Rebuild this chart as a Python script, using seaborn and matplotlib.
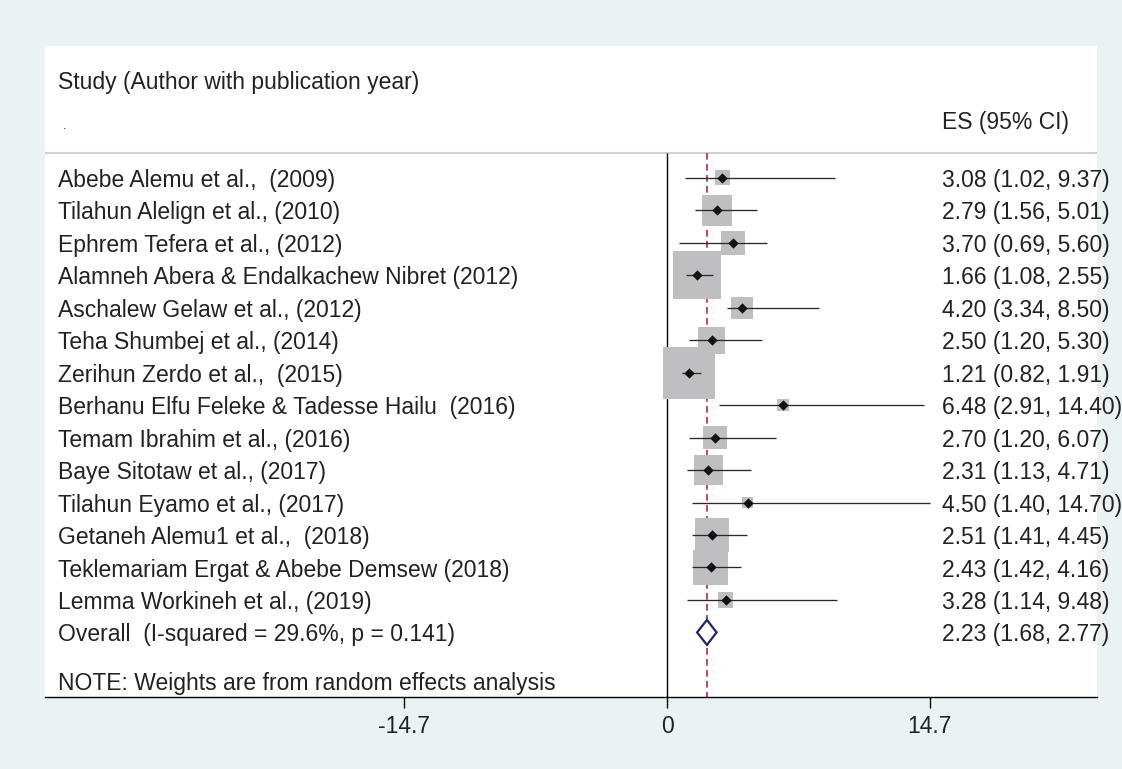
import numpy as np
import pandas as pd
import matplotlib
matplotlib.use("Agg")
import matplotlib.pyplot as plt
import seaborn as sns

# ---------------- data ----------------
studies = [
    "Abebe Alemu et al.,  (2009)",
    "Tilahun Alelign et al., (2010)",
    "Ephrem Tefera et al., (2012)",
    "Alamneh Abera & Endalkachew Nibret (2012)",
    "Aschalew Gelaw et al., (2012)",
    "Teha Shumbej et al., (2014)",
    "Zerihun Zerdo et al.,  (2015)",
    "Berhanu Elfu Feleke & Tadesse Hailu  (2016)",
    "Temam Ibrahim et al., (2016)",
    "Baye Sitotaw et al., (2017)",
    "Tilahun Eyamo et al., (2017)",
    "Getaneh Alemu1 et al.,  (2018)",
    "Teklemariam Ergat & Abebe Demsew (2018)",
    "Lemma Workineh et al., (2019)",
]
es = [3.08, 2.79, 3.70, 1.66, 4.20, 2.50, 1.21, 6.48, 2.70, 2.31, 4.50, 2.51, 2.43, 3.28]
ci_low = [1.02, 1.56, 0.69, 1.08, 3.34, 1.20, 0.82, 2.91, 1.20, 1.13, 1.40, 1.41, 1.42, 1.14]
ci_high = [9.37, 5.01, 5.60, 2.55, 8.50, 5.30, 1.91, 14.40, 6.07, 4.71, 14.70, 4.45, 4.16, 9.48]
weights = [1.84, 7.71, 4.60, 18.63, 4.07, 6.10, 21.89, 1.12, 4.60, 7.22, 0.93, 9.08, 10.26, 1.94]

overall_label = "Overall  (I-squared = 29.6%, p = 0.141)"
overall_es = 2.23
overall_low = 1.68
overall_high = 2.77

note_text = "NOTE: Weights are from random effects analysis"
study_header = "Study (Author with publication year)"
es_header = "ES (95% CI)"
xticks = [-14.7, 0, 14.7]
xtick_labels = ["-14.7", "0", "14.7"]

# ---------------- style ----------------
sns.set_style("white")
plt.rcParams["font.family"] = ["Liberation Sans", "DejaVu Sans"]
TXT = "#222222"
FS = 16.5

fig = plt.figure(figsize=(11.22, 7.69), dpi=100)
fig.patch.set_facecolor("#EAF2F3")
ax = fig.add_axes([45 / 1122, 72 / 769, (1097 - 45) / 1122, (723 - 72) / 769])
ax.set_facecolor("white")

rows = np.arange(len(studies))
overall_row = len(studies)
XMIN, XMAX = -34.8, 24.05
YTOP, YBOT = -4.063, 15.99
HEADER_LINE = -0.776
TOFF = 0.08  # text baseline offset

df = pd.DataFrame({"study": studies, "es": es, "lo": ci_low, "hi": ci_high,
                   "w": weights, "row": rows})
side_px = 11.05 * np.sqrt(df["w"])
df["area"] = (side_px * 0.72) ** 2
amin, amax = df["area"].min(), df["area"].max()

# reference lines
ax.axhline(HEADER_LINE, color="#d0d0d0", lw=1.5, zorder=1)
ax.vlines(0, HEADER_LINE, YBOT, color="black", lw=1.0, zorder=1)
ax.vlines(overall_es, HEADER_LINE, YBOT, color="#B02E3E", lw=1.2,
          linestyles=(0, (4, 2.6)), zorder=1)

# weight boxes
sns.scatterplot(data=df, x="es", y="row", size="area", sizes=(amin, amax),
                size_norm=(amin, amax), marker="s", color="#BFBFC1",
                linewidth=0, legend=False, ax=ax, zorder=2)
# CI lines
ax.hlines(df["row"], df["lo"], df["hi"], color="#2a2a2a", lw=0.95, zorder=3)
# point estimates
sns.scatterplot(data=df, x="es", y="row", marker="D", s=28, color="#111111",
                linewidth=0, legend=False, ax=ax, zorder=4)

# overall diamond
h = 0.385
ax.fill([overall_low, overall_es, overall_high, overall_es],
        [overall_row, overall_row - h, overall_row, overall_row + h],
        facecolor="white", edgecolor="#1F2468", lw=1.6, zorder=4)

# text columns
XL = -34.05
XR = 15.4
ax.text(XL, -2.95, study_header, fontsize=FS, color=TXT, va="center", ha="left")
ax.text(XL + 0.25, -1.60, ".", fontsize=9, color=TXT, va="center", ha="left")
ax.text(XR, -1.70, es_header, fontsize=FS, color=TXT, va="center", ha="left")
for r, s, e, l, hh in zip(rows, studies, es, ci_low, ci_high):
    ax.text(XL, r + TOFF, s, fontsize=FS, color=TXT, va="center", ha="left")
    ax.text(XR, r + TOFF, f"{e:.2f} ({l:.2f}, {hh:.2f})", fontsize=FS, color=TXT,
            va="center", ha="left", clip_on=False)
ax.text(XL, overall_row + TOFF, overall_label, fontsize=FS, color=TXT,
        va="center", ha="left")
ax.text(XR, overall_row + TOFF,
        f"{overall_es:.2f} ({overall_low:.2f}, {overall_high:.2f})",
        fontsize=FS, color=TXT, va="center", ha="left")
ax.text(XL, 15.58, note_text, fontsize=FS, color=TXT, va="center", ha="left")

# axes
ax.set_xlim(XMIN, XMAX)
ax.set_ylim(YBOT, YTOP)
ax.set_yticks([])
ax.set_xticks(xticks)
ax.set_xticklabels(xtick_labels, fontsize=FS, color=TXT)
ax.tick_params(axis="x", direction="out", length=8, width=1.0, color="black",
               pad=5, bottom=True)
ax.set_xlabel("")
ax.set_ylabel("")
for side in ["left", "top", "right"]:
    ax.spines[side].set_visible(False)
ax.spines["bottom"].set_color("black")
ax.spines["bottom"].set_linewidth(1.0)

fig.savefig("out.png", dpi=100, facecolor=fig.get_facecolor())
